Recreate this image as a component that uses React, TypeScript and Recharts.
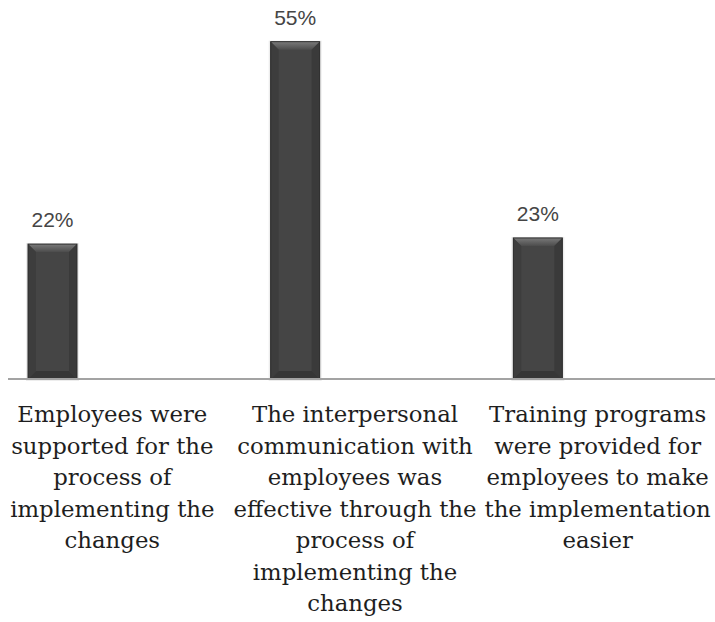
import React from 'react';
import { BarChart, Bar, XAxis, YAxis, LabelList } from 'recharts';

const categories: string[] = [
  'Employees were\nsupported for the\nprocess of\nimplementing the\nchanges',
  'The interpersonal\ncommunication with\nemployees was\neffective through the\nprocess of\nimplementing the\nchanges',
  'Training programs\nwere provided for\nemployees to make\nthe implementation\neasier',
];
const values: number[] = [22, 55, 23];

const data = categories.map((category, i) => ({ category, value: values[i], blank: null as number | null }));

const CategoryTick = (props: any) => {
  const { x, y, payload } = props;
  const lines = String(payload.value).split('\n');
  return (
    <text
      x={x}
      y={y}
      textAnchor="middle"
      style={{ fontFamily: '"DejaVu Serif"', fontSize: 22.8 }}
      fill="#1e1e1e"
    >
      {lines.map((l, i) => (
        <tspan key={i} x={x - 17} dy={i === 0 ? 43 : 31.5}>
          {l}
        </tspan>
      ))}
    </text>
  );
};

const BevelBar = (props: any) => {
  const { x, y, width: w, height: h, index } = props;
  if (h == null || h <= 0) return null;
  const b = Math.min(8, h / 2);
  const id = `bevel-${index}`;
  return (
    <g>
      <defs>
        <linearGradient id={id} x1="0" y1="0" x2="0" y2="1">
          <stop offset="0%" stopColor="#7a7a7a" />
          <stop offset="100%" stopColor="#4c4c4c" />
        </linearGradient>
      </defs>
      <rect x={x - 2} y={y - 1} width={w + 4} height={h + 3} fill="#000" opacity={0.07} />
      <rect x={x} y={y} width={w} height={h} fill="#454545" />
      <polygon points={`${x},${y} ${x + w},${y} ${x + w - b},${y + b} ${x + b},${y + b}`} fill={`url(#${id})`} />
      <polygon points={`${x},${y} ${x + b},${y + b} ${x + b},${y + h - b} ${x},${y + h}`} fill="#3d3d3d" />
      <polygon points={`${x + w},${y} ${x + w - b},${y + b} ${x + w - b},${y + h - b} ${x + w},${y + h}`} fill="#3a3a3a" />
      <polygon points={`${x},${y + h} ${x + b},${y + h - b} ${x + w - b},${y + h - b} ${x + w},${y + h}`} fill="#363636" />
      <rect x={x} y={y} width={w} height={h} fill="none" stroke="#2c2c2c" strokeWidth={1} />
    </g>
  );
};

export default function App() {
  return (
    <div style={{ position: 'absolute', left: 8, top: 0, width: 707, height: 622, overflow: 'hidden', background: '#fff' }}>
      <BarChart
        width={735}
        height={622}
        data={data}
        margin={{ top: 11, right: 7, bottom: 0, left: 0 }}
        barSize={49}
        barGap={105}
      >
        <XAxis
          dataKey="category"
          height={243}
          interval={0}
          tickLine={false}
          tickSize={0}
          tickMargin={0}
          axisLine={{ stroke: '#a3a3a3', strokeWidth: 2 }}
          tick={<CategoryTick />}
        />
        <YAxis hide domain={[0, 60]} />
        <Bar dataKey="value" isAnimationActive={false} shape={<BevelBar />}>
          <LabelList
            dataKey="value"
            position="top"
            offset={17}
            formatter={(v: any) => `${v}%`}
            fill="#454545"
            fontSize={21}
            fontFamily="'Liberation Sans', sans-serif"
          />
        </Bar>
        <Bar dataKey="blank" isAnimationActive={false} fill="transparent" />
      </BarChart>
    </div>
  );
}
